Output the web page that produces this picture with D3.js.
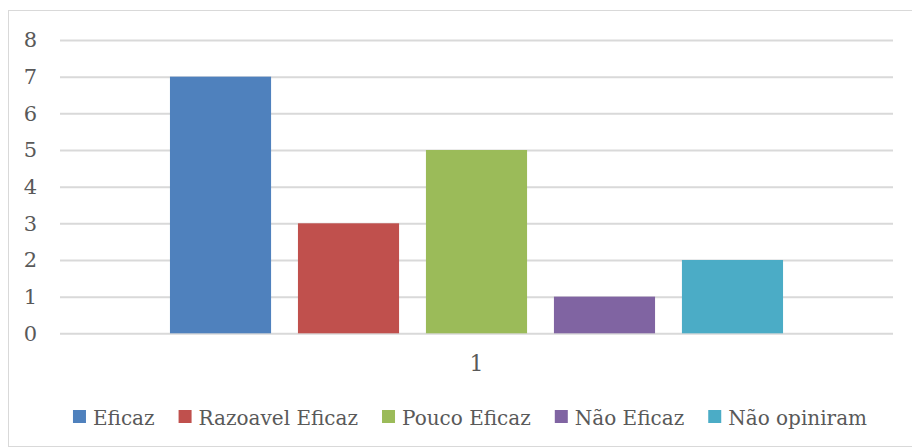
<!DOCTYPE html>
<html>
<head>
<meta charset="utf-8">
<script src="https://cdn.jsdelivr.net/npm/d3@7/dist/d3.min.js"></script>
<style>
  html, body { margin: 0; padding: 0; background: #fff; }
  svg { display: block; }
  text { font-family: 'DejaVu Serif', serif; fill: #595959; }
</style>
</head>
<body>
<div id="chart"></div>
<script>
// Survey answers, one group ("1") with five response categories
const categories = ["1"];
const seriesNames = ["Eficaz", "Razoavel Eficaz", "Pouco Eficaz", "Não Eficaz", "Não opiniram"];
const seriesValues = [7, 3, 5, 1, 2];
const seriesColors = ["#4F81BD", "#C0504D", "#9BBB59", "#8064A2", "#4BACC6"];
const yTicks = [0, 1, 2, 3, 4, 5, 6, 7, 8];

const W = 912, H = 448;
const margin = { left: 60, right: 19, top: 40, bottom: 115 };
const FONT = "'DejaVu Serif', serif";

const svg = d3.select("#chart").append("svg")
  .attr("width", W).attr("height", H);

// Chart frame
svg.append("rect")
  .attr("x", 8.5).attr("y", 10.5)
  .attr("width", W - 8).attr("height", H - 12)
  .attr("fill", "#fff").attr("stroke", "#d9d9d9").attr("stroke-width", 1);

const x0 = d3.scaleBand().domain(categories)
  .range([margin.left, W - margin.right]).paddingInner(0).paddingOuter(0);
const y = d3.scaleLinear().domain([0, 8]).range([H - margin.bottom + 0.3, margin.top]);

// Bars occupy the central part of the category band
const groupW = x0.bandwidth() * 0.736;
const x1 = d3.scaleBand().domain(seriesNames)
  .range([0, groupW]).paddingInner(0.21).paddingOuter(0);

// Gridlines and value labels
const yAxis = d3.axisLeft(y).tickValues(yTicks)
  .tickSize(-(W - margin.right - margin.left)).tickFormat(d3.format("d")).tickPadding(23);
const gy = svg.append("g").attr("transform", `translate(${margin.left},0)`).call(yAxis);
gy.select(".domain").remove();
gy.selectAll(".tick line").attr("stroke", "#d9d9d9").attr("stroke-width", 2);
gy.selectAll(".tick text").attr("font-size", 21).attr("fill", "#595959")
  .attr("font-family", FONT);

// Bars
const group = svg.append("g")
  .attr("transform", `translate(${x0("1") + (x0.bandwidth() - groupW) / 2},0)`);
group.selectAll("rect").data(seriesNames).join("rect")
  .attr("x", d => x1(d))
  .attr("width", x1.bandwidth())
  .attr("y", (d, i) => y(seriesValues[i]))
  .attr("height", (d, i) => y(0) - y(seriesValues[i]))
  .attr("fill", (d, i) => seriesColors[i]);

// Category axis label
const xAxis = d3.axisBottom(x0).tickSize(0).tickPadding(22);
const gx = svg.append("g").attr("transform", `translate(0,${y(0)})`).call(xAxis);
gx.select(".domain").remove();
gx.selectAll(".tick text").attr("font-size", 22).attr("fill", "#595959")
  .attr("font-family", FONT);

// Legend, laid out left to right and centred under the plot
const legend = svg.append("g");
const items = legend.selectAll("g").data(seriesNames).join("g");
items.append("rect").attr("width", 13).attr("height", 13).attr("y", -15)
  .attr("fill", (d, i) => seriesColors[i]);
items.append("text").attr("x", 20).attr("y", 0).attr("font-size", 20)
  .attr("font-family", FONT).text(d => d);
let cx = 0;
const positions = [];
items.each(function () {
  const w = this.querySelector("text").getComputedTextLength();
  positions.push(cx);
  cx += 20 + w + 24;
});
const total = cx - 24;
const startX = 470 - total / 2;
items.attr("transform", (d, i) => `translate(${startX + positions[i]},425)`);
</script>
</body>
</html>
